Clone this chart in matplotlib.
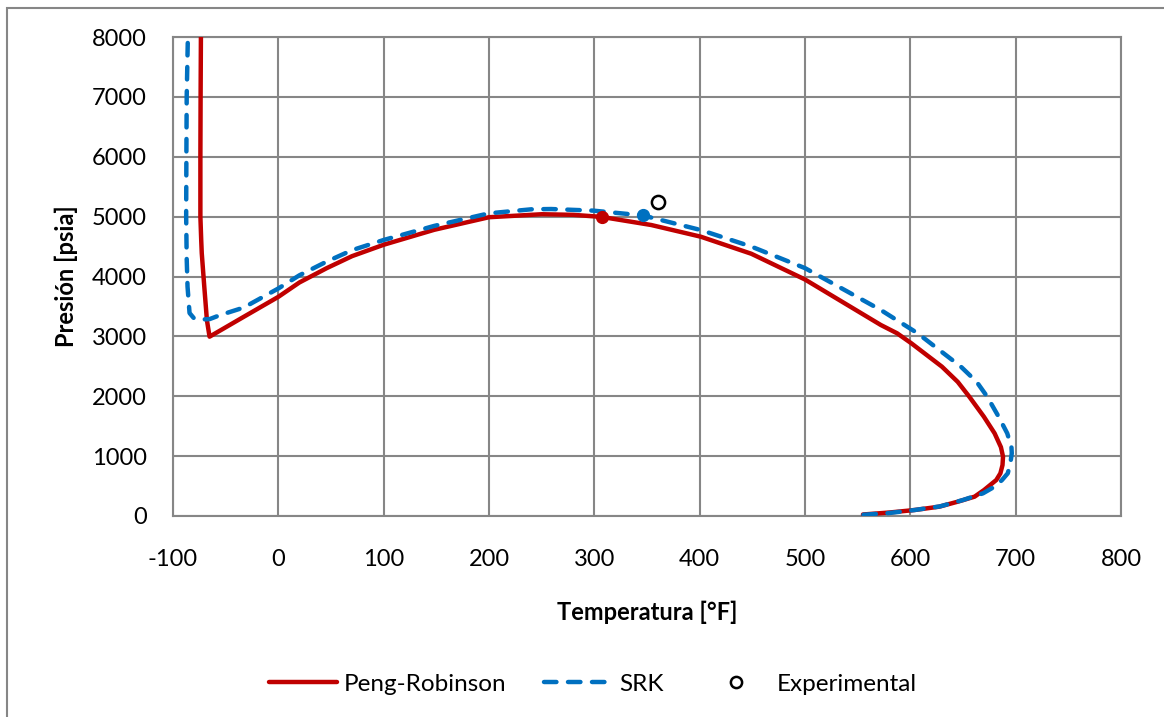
import matplotlib
matplotlib.use("Agg")
import matplotlib.pyplot as plt
from matplotlib.patches import Rectangle

plt.rcParams['font.family'] = ['Lato', 'DejaVu Sans']
plt.rcParams['axes.unicode_minus'] = False

# Peng-Robinson phase envelope (temperature °F, pressure psia)
pr_T = [-73.5, -73.8, -74.0, -74.0, -73.2, -72.7, -70.3, -67.8, -65.3,
        -55, -33, 0, 20, 46, 70, 100, 148, 200, 250, 280, 307, 354, 401, 449,
        500, 572, 587.5, 601, 630, 645, 656, 669.8, 680, 686, 688, 687.5, 685.5,
        681.6, 670, 661, 645, 627.5, 604, 580, 555]
pr_P = [8000, 7000, 6000, 5000, 4600, 4390, 3830, 3270, 2995,
        3100, 3325, 3660, 3900, 4140, 4340, 4530, 4780, 4990, 5040, 5030, 4995, 4860, 4665, 4380,
        3950, 3190, 3051, 2884, 2494, 2240, 1992, 1659, 1381, 1150, 991, 850, 713,
        601, 434, 323, 239, 156, 100, 58, 25]

# SRK phase envelope
srk_T = [-86.0, -87.0, -87.3, -87.5, -87.0, -86.2, -84.3, -80, -74, -65,
         -55, -33, 0, 20, 46, 70, 100, 148, 200, 240, 259, 299, 346, 401, 449,
         500, 572, 607, 648, 663, 673, 683.8, 692, 696, 696.3, 695, 692.5,
         687, 680, 669, 650, 628, 604, 580, 555]
srk_P = [7900, 7000, 6000, 5000, 4300, 3830, 3390, 3300, 3280, 3290,
         3357, 3480, 3800, 4020, 4250, 4440, 4610, 4845, 5055, 5122, 5127, 5100, 5020, 4776, 4500,
         4140, 3440, 3051, 2494, 2240, 1992, 1659, 1381, 1150, 1047, 880, 713,
         600, 490, 379, 267, 160, 100, 50, 20]

# Critical points of each equation of state
pr_crit = (307, 4990)
srk_crit = (346, 5020)

# Measured point
exp_T = [360]
exp_P = [5250]

red = '#C00000'
blue = '#0070C0'
grid_gray = '#868686'

fig = plt.figure(figsize=(11.64, 7.17), dpi=100)
ax = fig.add_axes([173/1164, 1 - 516/717, (1121 - 173)/1164, (516 - 37)/717])

ax.plot(pr_T, pr_P, color=red, lw=3.2, solid_joinstyle='round',
        solid_capstyle='round', label='Peng-Robinson', zorder=3)
ax.plot(srk_T, srk_P, color=blue, lw=3.2, dashes=(2.8, 2.6),
        dash_capstyle='round', dash_joinstyle='round', label='SRK', zorder=4)
ax.plot([pr_crit[0]], [pr_crit[1]], 'o', color=red, ms=8.5, zorder=5)
ax.plot([srk_crit[0]], [srk_crit[1]], 'o', color=blue, ms=8.5, zorder=5)
ax.plot(exp_T, exp_P, 'o', mfc='white', mec='black', mew=1.8, ms=9.5,
        ls='none', label='Experimental', zorder=6)

ax.set_xlim(-100, 800)
ax.set_ylim(0, 8000)
ax.set_xticks(range(-100, 801, 100))
ax.set_yticks(range(0, 8001, 1000))
ax.grid(True, color=grid_gray, lw=1.5)
ax.set_axisbelow(True)
for s in ax.spines.values():
    s.set_color(grid_gray)
    s.set_linewidth(1.5)
ax.tick_params(axis='both', length=0, labelsize=17, colors='black')
ax.tick_params(axis='x', pad=24)
ax.tick_params(axis='y', pad=19)

ax.set_xlabel('Temperatura [°F]', fontsize=17, fontweight='bold', labelpad=22)
ax.set_ylabel('Presión [psia]', fontsize=17, fontweight='bold', labelpad=10)

handles, labels = ax.get_legend_handles_labels()
fig.legend(handles, labels, loc='center', bbox_to_anchor=(593/1164, 1 - 684/717),
           ncol=3, frameon=False, fontsize=17.5, handlelength=2.8,
           handletextpad=0.3, columnspacing=1.55, markerscale=0.85)

# outer chart border
fig.patches.append(Rectangle((7/1164, -0.1), 1.2, 1 - 8/717 + 0.1,
                             transform=fig.transFigure, fill=False,
                             edgecolor=grid_gray, lw=1.5))

fig.savefig('out.png', dpi=100, facecolor='white')
